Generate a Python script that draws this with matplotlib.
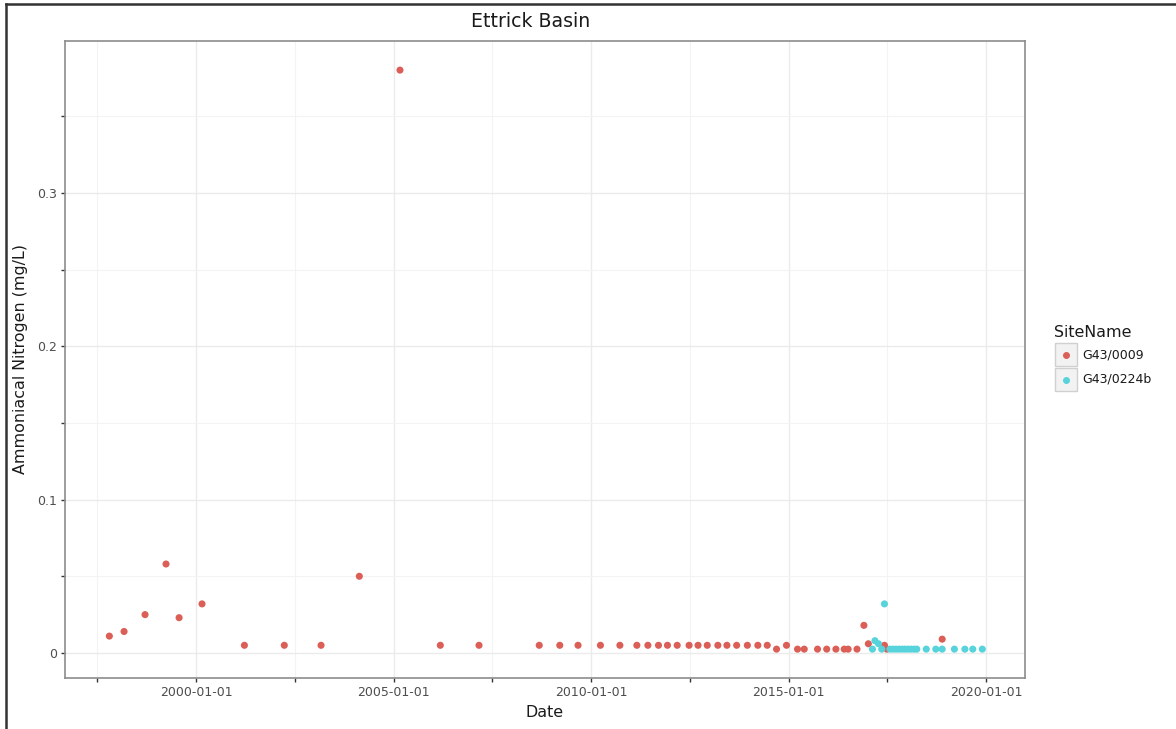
import matplotlib
matplotlib.use("Agg")
import matplotlib.pyplot as plt
import matplotlib.dates as mdates
import pandas as pd
from matplotlib.lines import Line2D
from matplotlib.patches import Rectangle

# --- data -------------------------------------------------------------
site_names = ["G43/0009", "G43/0224b"]
site_colors = ["#db5f57", "#57d3db"]

g0009_dates = [
    "1997-10-20", "1998-03-05", "1998-09-15", "1999-03-28", "1999-07-27",
    "2000-02-24", "2001-03-22", "2002-03-26", "2003-03-01", "2004-02-18",
    "2005-02-28", "2006-03-08", "2007-03-01", "2008-09-08", "2009-03-17",
    "2009-09-02", "2010-03-28", "2010-09-24", "2011-02-28", "2011-06-10",
    "2011-09-16", "2011-12-08", "2012-03-07", "2012-06-25", "2012-09-16",
    "2012-12-10", "2013-03-18", "2013-06-10", "2013-09-08", "2013-12-16",
    "2014-03-23", "2014-06-18", "2014-09-12", "2014-12-13", "2015-03-25",
    "2015-05-26", "2015-09-26", "2015-12-20", "2016-03-14", "2016-05-30",
    "2016-07-05", "2016-09-25", "2016-11-28", "2017-01-08", "2017-06-06",
    "2017-06-28", "2018-11-22",
]
g0009_values = [
    0.011, 0.014, 0.025, 0.058, 0.023,
    0.032, 0.005, 0.005, 0.005, 0.050,
    0.380, 0.005, 0.005, 0.005, 0.005,
    0.005, 0.005, 0.005, 0.005, 0.005,
    0.005, 0.005, 0.005, 0.005, 0.005,
    0.005, 0.005, 0.005, 0.005, 0.005,
    0.005, 0.005, 0.0025, 0.005, 0.0025,
    0.0025, 0.0025, 0.0025, 0.0025, 0.0025,
    0.0025, 0.0025, 0.018, 0.006, 0.005,
    0.0025, 0.009,
]

g0224b_dates = [
    "2017-02-15", "2017-03-10", "2017-04-12", "2017-05-12", "2017-06-06",
    "2017-07-27", "2017-08-24", "2017-09-21", "2017-10-19", "2017-11-16",
    "2017-12-14", "2018-01-11", "2018-02-08", "2018-03-08", "2018-04-01",
    "2018-06-28", "2018-09-24", "2018-11-22", "2019-03-15", "2019-06-20",
    "2019-09-01", "2019-11-28",
]
g0224b_values = [
    0.0025, 0.008, 0.006, 0.0025, 0.032,
    0.0025, 0.0025, 0.0025, 0.0025, 0.0025,
    0.0025, 0.0025, 0.0025, 0.0025, 0.0025,
    0.0025, 0.0025, 0.0025, 0.0025, 0.0025,
    0.0025, 0.0025,
]

x_major = ["2000-01-01", "2005-01-01", "2010-01-01", "2015-01-01", "2020-01-01"]
x_minor = ["1997-07-02", "2002-07-02", "2007-07-02", "2012-07-02", "2017-07-02"]
y_major = [0.0, 0.1, 0.2, 0.3]
y_major_labels = ["0", "0.1", "0.2", "0.3"]
y_minor = [0.05, 0.15, 0.25, 0.35]

# --- figure -----------------------------------------------------------
plt.rcParams["font.family"] = ["DejaVu Sans"]
fig = plt.figure(figsize=(11.76, 7.29), dpi=100)
ax = fig.add_axes([0.0553, 0.0700, 0.8163, 0.8738])

series = [(g0009_dates, g0009_values), (g0224b_dates, g0224b_values)]
for (d, v), c in zip(series, site_colors):
    ax.scatter(pd.to_datetime(d), v, s=26, color=c, edgecolors="none",
               zorder=3)

ax.set_xlim(pd.Timestamp("1996-09-05"), pd.Timestamp("2020-12-27"))
ax.set_ylim(-0.0163, 0.399)

ax.set_xticks(pd.to_datetime(x_major))
ax.set_xticks(pd.to_datetime(x_minor), minor=True)
ax.xaxis.set_major_formatter(mdates.DateFormatter("%Y-%m-%d"))
ax.set_yticks(y_major)
ax.set_yticklabels(y_major_labels)
ax.set_yticks(y_minor, minor=True)

ax.grid(which="major", color="#ebebeb", linewidth=1.0, zorder=0)
ax.grid(which="minor", color="#f3f3f3", linewidth=0.8, zorder=0)
ax.set_axisbelow(True)

for sp in ax.spines.values():
    sp.set_color("#8c8c8c")
    sp.set_linewidth(1.2)

ax.tick_params(which="both", length=3, width=1, color="#333333",
               labelsize=9, labelcolor="#4d4d4d", pad=3)

ax.set_title("Ettrick Basin", fontsize=13.6, color="#1a1a1a", pad=10,
             x=0.485)
ax.set_xlabel("Date", fontsize=11.4, color="#1a1a1a", labelpad=4)
ax.set_ylabel("Ammoniacal Nitrogen (mg/L)", fontsize=11.4, color="#1a1a1a",
              labelpad=6)

# --- legend -----------------------------------------------------------
W, H = 1176.0, 729.0
fig.text(1054 / W, 1 - 332 / H, "SiteName", fontsize=11.4, color="#1a1a1a",
         va="center", ha="left")
for i, (name, c) in enumerate(zip(site_names, site_colors)):
    top = 343 + i * 25
    fig.add_artist(Rectangle((1055 / W, 1 - (top + 23) / H), 22 / W, 23 / H,
                             transform=fig.transFigure, facecolor="#f2f2f2",
                             edgecolor="#d0d0d0", linewidth=1.0))
    fig.add_artist(Line2D([1066 / W], [1 - (top + 11.5) / H],
                          transform=fig.transFigure, marker="o",
                          markersize=4, color=c, linestyle="none"))
    fig.text(1082 / W, 1 - (top + 11.5) / H, name, fontsize=9,
             color="#1a1a1a", va="center", ha="left")

# framing lines along the left and top edges
fig.add_artist(Line2D([5.5 / W, 5.5 / W], [0, 1 - 4 / H],
                      transform=fig.transFigure, color="#333333", lw=1.8))
fig.add_artist(Line2D([5.5 / W, 1], [1 - 4 / H, 1 - 4 / H],
                      transform=fig.transFigure, color="#333333", lw=1.8))

fig.savefig("out.png", dpi=100)
